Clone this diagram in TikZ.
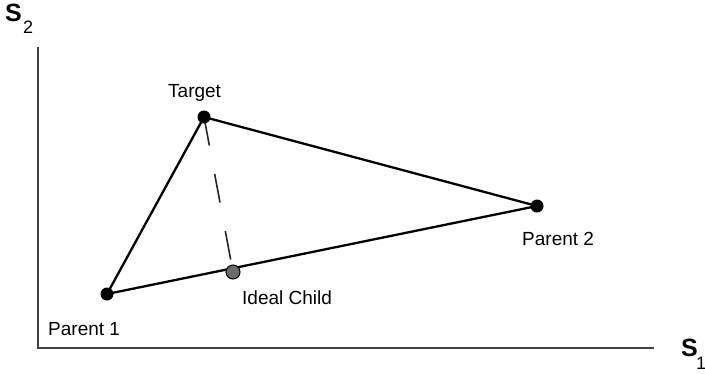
\documentclass[tikz,border=0pt]{standalone}
\usepackage{fontspec}
\setmainfont{Liberation Sans}
\begin{document}
\begin{tikzpicture}[x=1pt,y=-1pt,
  axis/.style={draw=black!75,line width=1.3pt},
  edge/.style={draw=black,line width=2.3pt},
  dashline/.style={draw=black!85,line width=1.6pt,dash pattern=on 29pt off 29pt},
  dot/.style={circle,fill=black,inner sep=0pt,minimum size=13pt},
  childdot/.style={circle,fill=black!58,draw=black,line width=1pt,inner sep=0pt,minimum size=14pt},
  lab/.style={inner sep=0pt,anchor=base west,font=\fontsize{19}{22}\selectfont},
  axlab/.style={inner sep=0pt,anchor=base west,font=\fontsize{25}{28}\selectfont\bfseries},
  sublab/.style={inner sep=0pt,anchor=base west,font=\fontsize{18}{22}\selectfont}]
\useasboundingbox (0,0) rectangle (705,373);
% axes
\coordinate (O) at (38,348);
\coordinate (Ytop) at (38,47);
\coordinate (Xend) at (654,348);
\draw[axis] (Ytop) -- (O) -- (Xend);
% points
\coordinate (T) at (204,117);
\coordinate (P2) at (537,206);
\coordinate (P1) at (107,294);
\coordinate (C) at (233,272);
\draw[edge] (P1) -- (T) -- (P2) -- (P1);
\draw[dashline] (T) -- (C);
\node[dot] (t) at (T) {};
\node[dot] (p2) at (P2) {};
\node[dot] (p1) at (P1) {};
\node[childdot] (c) at (C) {};
% labels
\node[lab] (lt) at (168,97) {Target};
\node[lab] (lp2) at (522,245) {Parent 2};
\node[lab] (lp1) at (48,335) {Parent 1};
\node[lab] (lc) at (242,304) {Ideal Child};
\node[axlab] (s2) at (5,21) {S};
\node[sublab] (s2i) at (23,33) {2};
\node[axlab] (s1) at (681,356) {S};
\node[sublab] (s1i) at (696,369) {1};
\end{tikzpicture}
\end{document}
